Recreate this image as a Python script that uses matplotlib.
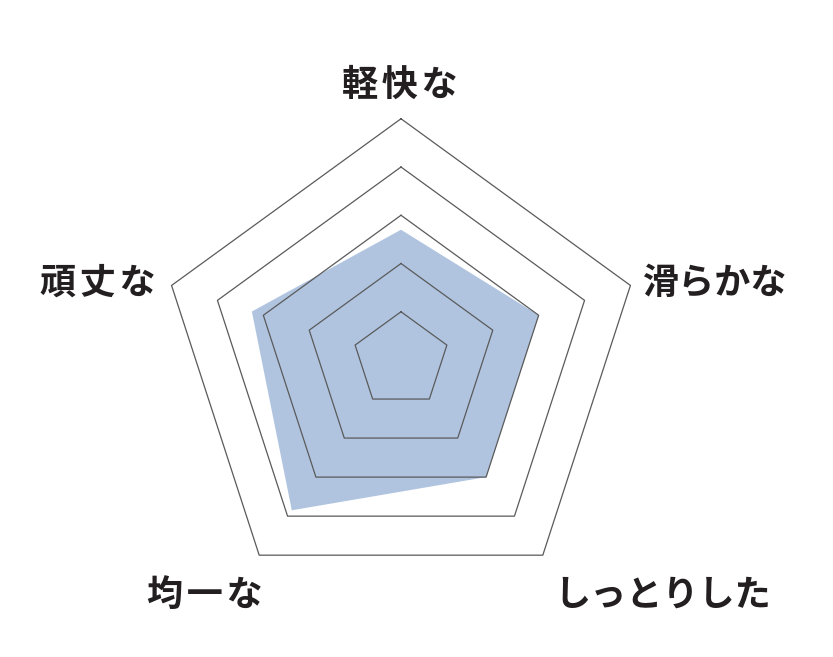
import numpy as np
import matplotlib
matplotlib.use("Agg")
import matplotlib.pyplot as plt

# radar chart: five texture axes, scale 0-5
labels = ["軽\u200a快\u200aな", "滑らかな", "しっとりした", "均\u200a一\u200aな", "頑\u200a丈\u200aな"]
values = [2.7, 3.0, 3.0, 3.85, 3.25]
levels = [1, 2, 3, 4, 5]

plt.rcParams['font.family'] = ['Noto Sans CJK JP', 'DejaVu Sans']

W, H = 833, 657
cx, cy = 401, H - 360     # chart centre (pixel units, y up)
unit = 48.25              # pixels per scale step

# axis angles, clockwise from the top
ang = np.deg2rad(90 - 72 * np.arange(len(labels)))

def pent(r):
        x = cx + r * unit * np.cos(ang)
        y = cy + r * unit * np.sin(ang)
        return np.append(x, x[0]), np.append(y, y[0])

fig = plt.figure(figsize=(W / 100, H / 100), dpi=100)
ax = fig.add_axes([0, 0, 1, 1])
ax.set_xlim(0, W)
ax.set_ylim(0, H)
ax.axis('off')

# data area first, grid on top
px = cx + np.array(values) * unit * np.cos(ang)
py = cy + np.array(values) * unit * np.sin(ang)
ax.fill(px, py, color='#b0c4e0', lw=0, zorder=1)

for lv in levels:
        x, y = pent(lv)
        ax.plot(x, y, color='#5a5a5a', lw=0.9, zorder=2)

# label placement relative to the outer vertices
ox, oy = pent(levels[-1])
offs = [(-1, 33), (12, 2), (12, -40), (3, -40), (-16, 2)]
has = ['center', 'left', 'left', 'right', 'right']
for i, lab in enumerate(labels):
        ax.annotate(lab, (ox[i], oy[i]), xytext=offs[i], textcoords='offset pixels',
                    ha=has[i], va='center', fontsize=26, fontweight='bold',
                    color='#231f20')

fig.savefig("out.png", dpi=100)
